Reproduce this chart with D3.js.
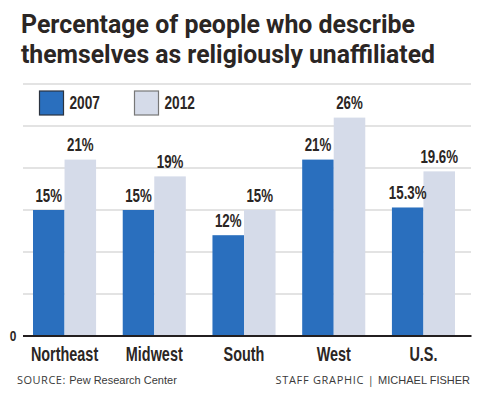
<!DOCTYPE html>
<html>
<head>
<meta charset="utf-8">
<script src="https://cdn.jsdelivr.net/npm/d3@7"></script>
<style>
  body { margin: 0; background: #fff; }
  svg { display: block; }
</style>
</head>
<body>
<script>
const regions = ['Northeast', 'Midwest', 'South', 'West', 'U.S.'];
const years = ['2007', '2012'];
const values2007 = [15, 15, 12, 21, 15.3];
const values2012 = [21, 19, 15, 26, 19.6];
const labels2007 = ['15%', '15%', '12%', '21%', '15.3%'];
const labels2012 = ['21%', '19%', '15%', '26%', '19.6%'];
const gridTicks = [5, 10, 15, 20, 25, 30];

const width = 480, height = 396;
const colors = { '2007': '#2a6fbe', '2012': '#d5dbe9' };
const condensed = '"Liberation Sans Narrow", "Liberation Sans", Arial, sans-serif';

const svg = d3.select('body').append('svg')
    .attr('width', width)
    .attr('height', height);

// Title
const title = svg.append('g')
    .attr('fill', '#2b2624')
    .attr('font-family', 'Roboto, sans-serif')
    .attr('font-weight', 700)
    .attr('font-size', 25);
title.append('text').attr('x', 21).attr('y', 33)
    .attr('textLength', 394).attr('lengthAdjust', 'spacingAndGlyphs')
    .text('Percentage of people who describe');
title.append('text').attr('x', 21).attr('y', 63)
    .attr('textLength', 414).attr('lengthAdjust', 'spacingAndGlyphs')
    .text('themselves as religiously unaffiliated');

const x = d3.scaleBand()
    .domain(regions)
    .range([33, 455])
    .paddingInner(0.297)
    .paddingOuter(0);

const xInner = d3.scaleBand()
    .domain(years)
    .range([0, x.bandwidth()]);

const y = d3.scaleLinear()
    .domain([0, 30])
    .range([336, 84]);

// Gridlines
svg.append('g')
  .selectAll('line')
  .data(gridTicks)
  .join('line')
    .attr('x1', 23)
    .attr('x2', 471)
    .attr('y1', d => y(d))
    .attr('y2', d => y(d))
    .attr('stroke', '#e3e3e3')
    .attr('stroke-width', 2);

// Legend
const legend = svg.append('g');
const legendX = [39.5, 134.5];
years.forEach((yr, i) => {
  legend.append('rect')
      .attr('x', legendX[i]).attr('y', 91)
      .attr('width', 24).attr('height', 24)
      .attr('fill', colors[yr])
      .attr('stroke', i === 0 ? '#2b3340' : '#777')
      .attr('stroke-width', 1.2);
  legend.append('text')
      .attr('transform', `translate(${legendX[i] + 30},108.5) scale(0.76,1)`)
      .attr('font-family', condensed)
      .attr('font-weight', 700)
      .attr('font-size', 18)
      .attr('fill', '#2b2624')
      .text(yr);
});

const rows = regions.map((r, i) => ({
  region: r,
  bars: [
    { year: '2007', value: values2007[i], label: labels2007[i] },
    { year: '2012', value: values2012[i], label: labels2012[i] }
  ]
}));

const groups = svg.append('g')
  .selectAll('g')
  .data(rows)
  .join('g')
    .attr('transform', d => `translate(${x(d.region)},0)`);

groups.selectAll('rect')
  .data(d => d.bars)
  .join('rect')
    .attr('x', d => xInner(d.year))
    .attr('y', d => y(d.value))
    .attr('width', xInner.bandwidth())
    .attr('height', d => y(0) - y(d.value))
    .attr('fill', d => colors[d.year]);

groups.selectAll('text.val')
  .data(d => d.bars)
  .join('text')
    .attr('class', 'val')
    .attr('transform', d => `translate(${xInner(d.year) + xInner.bandwidth() / 2},${y(d.value) - 8.5}) scale(0.76,1)`)
    .attr('text-anchor', 'middle')
    .attr('font-family', condensed)
    .attr('font-weight', 700)
    .attr('font-size', 17.5)
    .attr('fill', '#2b2624')
    .text(d => d.label);

// Baseline axis
svg.append('line')
    .attr('x1', 23).attr('x2', 471.5)
    .attr('y1', y(0)).attr('y2', y(0))
    .attr('stroke', '#231f20')
    .attr('stroke-width', 2.2);

svg.append('text')
    .attr('transform', `translate(13,${y(0) + 4.5}) scale(0.85,1)`)
    .attr('text-anchor', 'middle')
    .attr('font-family', condensed)
    .attr('font-weight', 700)
    .attr('font-size', 14)
    .attr('fill', '#2b2624')
    .text('0');

// Category labels
const xAxis = d3.axisBottom(x).tickSize(0).tickPadding(0);
const axisG = svg.append('g')
    .attr('transform', `translate(0,${y(0)})`)
    .call(xAxis);
axisG.select('.domain').remove();
axisG.selectAll('.tick text')
    .attr('y', 0)
    .attr('dy', 0)
    .attr('transform', 'translate(0,24.5) scale(0.74,1)')
    .attr('font-family', condensed)
    .attr('font-weight', 700)
    .attr('font-size', 19.5)
    .attr('fill', '#2b2624');

// Footer
const src = svg.append('text')
    .attr('x', 17).attr('y', 384)
    .attr('font-size', 11)
    .attr('fill', '#3a3a3a');
src.append('tspan')
    .attr('font-family', '"Open Sans", sans-serif')
    .attr('letter-spacing', 0.5)
    .text('SOURCE: ');
src.append('tspan')
    .attr('font-family', condensed)
    .text('Pew Research Center');

const credit = svg.append('text')
    .attr('x', 470).attr('y', 384)
    .attr('text-anchor', 'end')
    .attr('font-size', 11)
    .attr('fill', '#3a3a3a');
credit.append('tspan')
    .attr('font-family', '"Open Sans", sans-serif')
    .attr('letter-spacing', 0.7)
    .text('STAFF GRAPHIC | ');
credit.append('tspan')
    .attr('font-family', condensed)
    .text('MICHAEL FISHER');
</script>
</body>
</html>
